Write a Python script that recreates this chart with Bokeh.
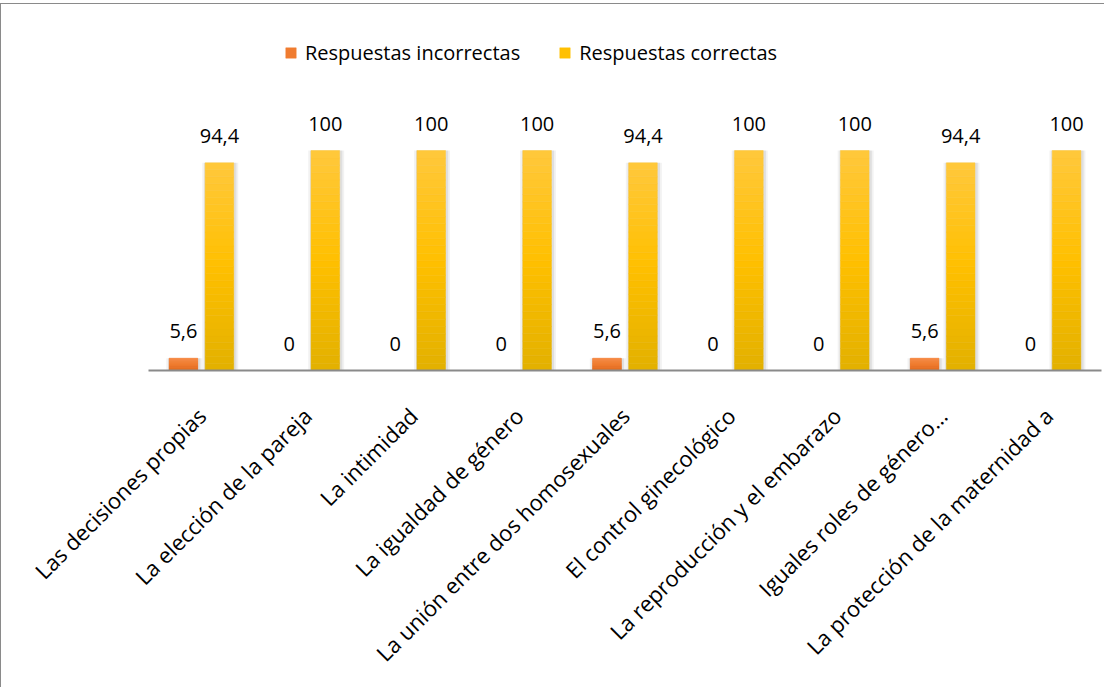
import math
from bokeh.plotting import figure
from bokeh.models import ColumnDataSource, FactorRange, Range1d, Legend, LegendItem
from bokeh.transform import dodge
from bokeh.core.properties import value
from bokeh.embed import file_html
from bokeh.resources import INLINE

# ---- data ----
categories = [
    "Las decisiones propias",
    "La elección de la pareja",
    "La intimidad",
    "La igualdad de género",
    "La unión entre dos homosexuales",
    "El control ginecológico",
    "La reproducción y el embarazo",
    "Iguales roles de género…",
    "La protección de la maternidad a",
]
incorrectas = [5.6, 0, 0, 0, 5.6, 0, 0, 5.6, 0]
correctas = [94.4, 100, 100, 100, 94.4, 100, 100, 94.4, 100]
series_names = ["Respuestas incorrectas", "Respuestas correctas"]

FONT = "Open Sans"
BAR_W = 0.27
OFF = 0.17
N_SLICES = 30

yellow_stops = [(0.0, (0xFF, 0xC8, 0x3C)), (0.5, (0xFF, 0xC0, 0x00)), (1.0, (0xE2, 0xB0, 0x00))]
orange_stops = [(0.0, (0xF6, 0x8C, 0x47)), (0.5, (0xF0, 0x7B, 0x2F)), (1.0, (0xE0, 0x6A, 0x1E))]


def interp(stops, t):
    for (t0, c0), (t1, c1) in zip(stops[:-1], stops[1:]):
        if t0 <= t <= t1:
            f = (t - t0) / (t1 - t0)
            c = [round(a + (b - a) * f) for a, b in zip(c0, c1)]
            return "#%02x%02x%02x" % tuple(c)
    return "#%02x%02x%02x" % stops[-1][1]


def slices(vals, stops):
    xs, bots, tops, cols = [], [], [], []
    for cat, v in zip(categories, vals):
        for i in range(N_SLICES):
            xs.append(cat)
            bots.append(v * i / N_SLICES)
            tops.append(v * (i + 1) / N_SLICES)
            t = 1 - (i + 0.5) / N_SLICES  # 0 at top, 1 at bottom
            cols.append(interp(stops, t))
    return ColumnDataSource(dict(cat=xs, bottom=bots, top=tops, color=cols))


def fmt(v):
    return ("%g" % v).replace(".", ",")


p = figure(
    x_range=FactorRange(*categories),
    y_range=Range1d(0, 156.4),
    width=1104, height=684,
    output_backend="svg", toolbar_location=None,
    min_border_left=147, min_border_right=4,
    min_border_top=22, min_border_bottom=318,
)
p.styles = {"border-left": "1px solid #8a8a8a", "border-top": "1px solid #8a8a8a", "margin-top": "3px"}
p.outline_line_color = None
p.xgrid.visible = False
p.ygrid.visible = False
p.yaxis.visible = False
p.background_fill_color = "white"
p.border_fill_color = "white"

src_main = ColumnDataSource(dict(cat=categories, inc=incorrectas, cor=correctas,
                                 inc_lbl=[fmt(v) for v in incorrectas],
                                 cor_lbl=[fmt(v) for v in correctas]))

# soft shadows
for key, o in [("inc", -OFF), ("cor", OFF)]:
    for w_extra, a in [(0.07, 0.05), (0.035, 0.08)]:
        p.vbar(x=dodge("cat", o + 0.008, range=p.x_range), top=key, bottom=0,
               width=BAR_W + w_extra, source=src_main, fill_color="black",
               fill_alpha=a, line_color=None)

src_inc = slices(incorrectas, orange_stops)
src_cor = slices(correctas, yellow_stops)
r_inc = p.vbar(x=dodge("cat", -OFF, range=p.x_range), top="top", bottom="bottom",
               width=BAR_W, source=src_inc, fill_color="color", line_color="color",
               line_width=0.5)
r_cor = p.vbar(x=dodge("cat", OFF, range=p.x_range), top="top", bottom="bottom",
               width=BAR_W, source=src_cor, fill_color="color", line_color="color",
               line_width=0.5)

# value labels
for key, lbl, o in [("inc", "inc_lbl", -OFF), ("cor", "cor_lbl", OFF)]:
    p.text(x=dodge("cat", o, range=p.x_range), y=key, text=lbl, source=src_main,
           text_align="center", text_baseline="alphabetic", y_offset=-27,
           text_font=value(FONT), text_font_size="20px", text_color="#000000")

# axis
ax = p.xaxis[0]
ax.axis_line_color = "#8a8a8a"
ax.axis_line_width = 2
ax.major_tick_line_color = None
ax.minor_tick_line_color = None
ax.major_label_orientation = math.pi / 4
ax.major_label_text_font = FONT
ax.major_label_text_font_size = "22px"
ax.major_label_text_color = "#000000"
ax.major_label_standoff = 35

legend = Legend(
    items=[LegendItem(label=series_names[0], renderers=[r_inc], index=N_SLICES // 2),
           LegendItem(label=series_names[1], renderers=[r_cor], index=N_SLICES + N_SLICES // 2)],
    orientation="horizontal", location=(136, 304),
    label_text_font=FONT, label_text_font_size="20px", label_text_color="#000000",
    glyph_width=13, glyph_height=13, label_standoff=8, spacing=38,
    padding=0, margin=0, border_line_color=None, background_fill_alpha=0,
    label_height=20,
)
p.add_layout(legend, "center")

open("out.html", "w").write(file_html(p, INLINE))
